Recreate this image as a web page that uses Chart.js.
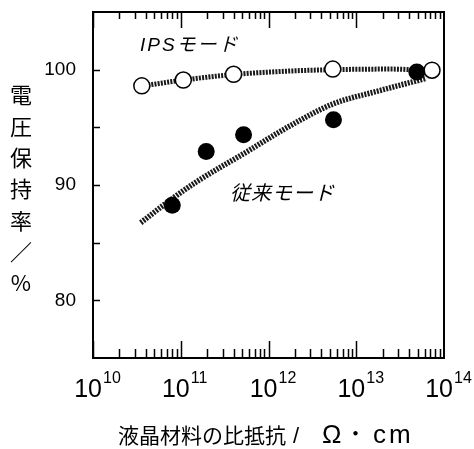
<!DOCTYPE html>
<html>
<head>
<meta charset="utf-8">
<script src="https://cdn.jsdelivr.net/npm/chart.js@4.4.1/dist/chart.umd.min.js"></script>
<style>
  body { margin: 0; background: #fff; }
  canvas { display: block; }
</style>
</head>
<body>
<canvas id="holdChart" width="474" height="449"></canvas>
<script>
// resistivity (ohm cm) and voltage holding ratio (%)
const ipsResistivity = [3.6e10, 1.07e11, 4.0e11, 5.4e12, 7.3e13];
const ipsRatio = [98.6, 99.1, 99.6, 100.05, 99.95];
const convResistivity = [8.0e10, 1.95e11, 5.2e11, 5.5e12, 4.9e13];
const convRatio = [88.25, 92.9, 94.35, 95.65, 99.8];

// hand-drawn trend curves
const ipsCurveX = [3.6e10, 1.07e11, 4.0e11, 1.74e12, 5.4e12, 2.42e13, 6.6e13];
const ipsCurveY = [98.58, 99.1, 99.58, 99.88, 100.0, 100.05, 99.93];
const convCurveX = [3.5e10, 8.0e10, 1.5e11, 5.6e11, 1.74e12, 5.4e12, 1.86e13, 6.3e13];
const convCurveY = [86.73, 88.82, 90.26, 92.86, 95.11, 97.02, 98.19, 99.25];

const xExponents = [10, 11, 12, 13, 14];
const yLabelTicks = [80, 90, 100];
const yMarkTicks = [80, 85, 90, 95, 100];
const yTitleChars = ['電', '圧', '保', '持', '率', '／', '%'];

function pts(xs, ys) {
    return xs.map(function (x, i) { return { x: x, y: ys[i] }; });
}

// frame, inward ticks, power-of-ten labels, axis titles and notes
const decorations = {
    id: 'decorations',
    afterDraw: function (chart) {
        const ctx = chart.ctx;
        const a = chart.chartArea;
        const xs = chart.scales.x;
        const ys = chart.scales.y;
        ctx.save();
        ctx.strokeStyle = '#000';
        ctx.lineWidth = 2;
        ctx.strokeRect(a.left, a.top, a.right - a.left, a.bottom - a.top);

        ctx.lineWidth = 1.5;
        ctx.beginPath();
        yMarkTicks.forEach(function (v) {
            const py = Math.round(ys.getPixelForValue(v)) + 0.5;
            ctx.moveTo(a.left, py);
            ctx.lineTo(a.left + 7, py);
        });
        for (let e = 10; e < 14; e++) {
            for (let m = 1; m <= 9; m++) {
                const px = Math.round(xs.getPixelForValue(m * Math.pow(10, e))) + 0.5;
                const major = m === 1;
                ctx.moveTo(px, a.top);
                ctx.lineTo(px, a.top + (major ? 16 : 7));
                ctx.moveTo(px, a.bottom);
                ctx.lineTo(px, a.bottom - (major ? 17 : 9));
            }
        }
        ctx.stroke();

        ctx.fillStyle = '#000';
        ctx.textBaseline = 'alphabetic';
        xExponents.forEach(function (e) {
            const px = xs.getPixelForValue(Math.pow(10, e));
            ctx.font = '25px "Liberation Sans", Arial, sans-serif';
            ctx.textAlign = 'right';
            ctx.fillText('10', px + 9, 397);
            ctx.font = '16px "Liberation Sans", Arial, sans-serif';
            ctx.textAlign = 'left';
            ctx.fillText(String(e), px + 10, 383);
        });

        // x title, mixed sizes like the original
        ctx.textAlign = 'left';
        ctx.font = '21px "Noto Sans CJK JP", sans-serif';
        ctx.fillText('液晶材料の比抵抗', 118, 443);
        ctx.font = '22px "Liberation Sans", Arial, sans-serif';
        ctx.fillText('/', 293, 443);
        ctx.font = '26px "Liberation Sans", Arial, sans-serif';
        ctx.fillText('Ω', 322, 443);
        ctx.font = '21px "Noto Sans CJK JP", sans-serif';
        ctx.fillText('・', 345, 441);
        ctx.font = '26px "Liberation Sans", Arial, sans-serif';
        ctx.letterSpacing = '3px';
        ctx.fillText('cm', 373, 443);
        ctx.letterSpacing = '0px';

        ctx.font = '22px "Noto Sans CJK JP", sans-serif';
        ctx.textAlign = 'center';
        ctx.textBaseline = 'middle';
        yTitleChars.forEach(function (ch, i) {
            ctx.fillText(ch, 21, 95 + i * 31.3);
        });

        ctx.textAlign = 'left';
        ctx.textBaseline = 'alphabetic';
        ctx.font = 'italic 19px "Liberation Sans", "Noto Sans CJK JP", sans-serif';
        ctx.letterSpacing = '2px';
        ctx.fillText('IPSモード', a.left + 47, 51);
        ctx.font = 'italic 20px "Noto Sans CJK JP", sans-serif';
        ctx.letterSpacing = '1px';
        ctx.fillText('従来モード', a.left + 137, 200);
        ctx.restore();
    }
};

const ctx = document.getElementById('holdChart').getContext('2d');
const holdChart = new Chart(ctx, {
    type: 'scatter',
    data: {
        datasets: [{
            label: 'IPS',
            data: pts(ipsResistivity, ipsRatio),
            pointStyle: 'circle',
            pointRadius: 8,
            pointBackgroundColor: '#fff',
            pointBorderColor: '#000',
            pointBorderWidth: 1.5,
            order: 1
        }, {
            label: 'conventional',
            data: pts(convResistivity, convRatio),
            pointStyle: 'circle',
            pointRadius: 8.5,
            pointBackgroundColor: '#000',
            pointBorderColor: '#000',
            pointBorderWidth: 0,
            order: 0
        }, {
            label: 'IPS curve',
            data: pts(ipsCurveX, ipsCurveY),
            showLine: true,
            pointRadius: 0,
            borderColor: '#1a1a1a',
            borderWidth: 5,
            borderDash: [2, 1.2],
            cubicInterpolationMode: 'monotone',
            order: 3
        }, {
            label: 'conventional curve',
            data: pts(convCurveX, convCurveY),
            showLine: true,
            pointRadius: 0,
            borderColor: '#1a1a1a',
            borderWidth: 5.5,
            borderDash: [2, 1.2],
            cubicInterpolationMode: 'monotone',
            order: 3
        }]
    },
    options: {
        responsive: false,
        animation: false,
        layout: { padding: { left: 0, right: 30, top: 12, bottom: 0 } },
        plugins: {
            legend: { display: false },
            tooltip: { enabled: false }
        },
        scales: {
            x: {
                type: 'logarithmic',
                position: 'bottom',
                min: 1e10,
                max: 1e14,
                grid: { display: false },
                border: { display: false },
                ticks: { display: false },
                afterFit: function (scale) { scale.height = 91; }
            },
            y: {
                min: 75,
                max: 105,
                grid: {
                    display: true,
                    drawOnChartArea: false,
                    drawTicks: true,
                    tickLength: 17,
                    color: 'rgba(0,0,0,0)'
                },
                border: { display: false },
                ticks: {
                    color: '#000',
                    padding: 0,
                    font: { family: '"Liberation Sans", Arial, sans-serif', size: 19 }
                },
                afterBuildTicks: function (scale) {
                    scale.ticks = yLabelTicks.map(function (v) { return { value: v }; });
                },
                afterFit: function (scale) { scale.width = 93; }
            }
        }
    },
    plugins: [decorations]
});
</script>
</body>
</html>
